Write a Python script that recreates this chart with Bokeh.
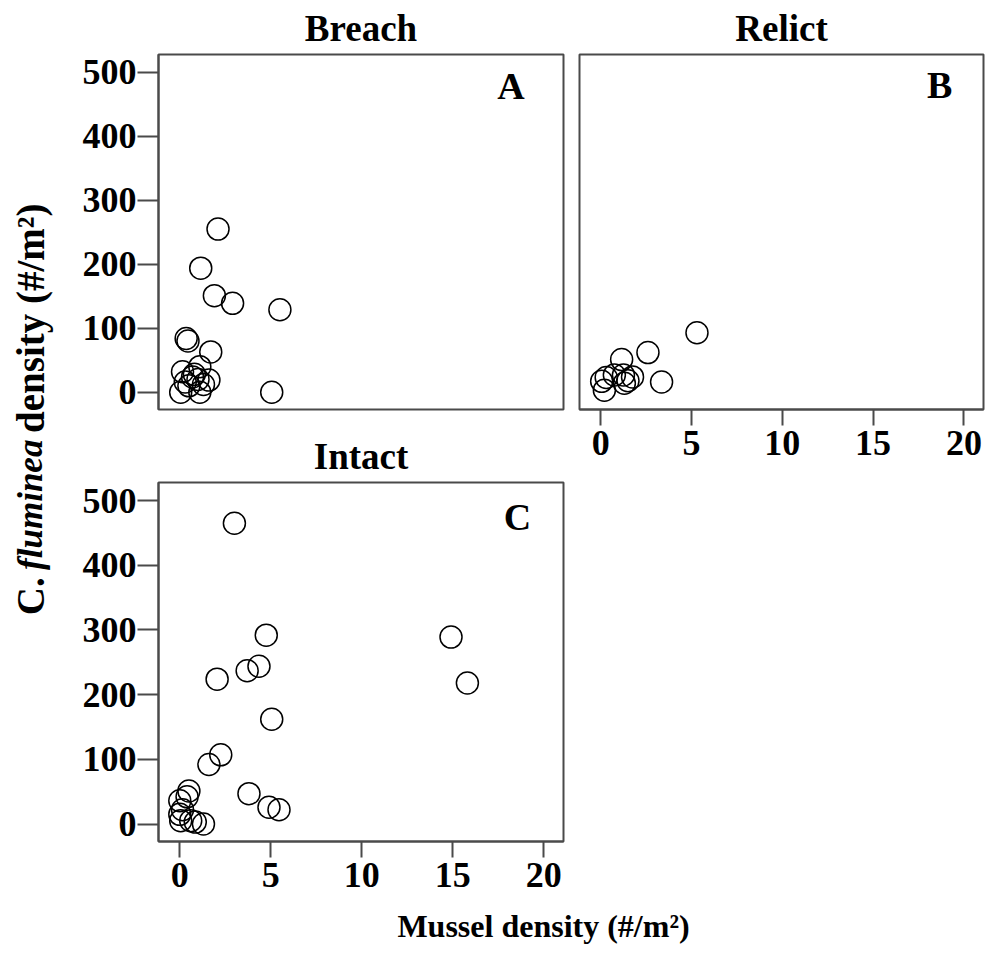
from bokeh.plotting import figure
from bokeh.layouts import row, column
from bokeh.models import Range1d, FixedTicker
from bokeh.core.properties import value
from bokeh.embed import file_html
from bokeh.resources import INLINE
import math

# ---- data ----
breach_x = [2.1, 1.15, 1.9, 2.9, 5.5, 0.35, 0.45, 1.7, 5.05, 0.05, 1.1, 1.1, 1.6, 0.15, 0.3, 0.7, 1.0, 0.5, 0.8, 1.3]
breach_y = [255, 194, 151, 139, 129, 84, 80, 63, 0, 0, 0, 40, 19, 32, 16, 24, 20, 10, 28, 12]

relict_x = [5.3, 2.6, 1.15, 3.35, 0.2, 0.3, 0.75, 1.3, 1.75, 1.5, 0.05, 1.25]
relict_y = [93, 62, 51, 16, 3, 23, 27, 14, 24, 18, 17, 27]

intact_x = [3.0, 4.75, 14.9, 4.35, 3.7, 2.05, 15.8, 5.05, 2.25, 1.6, 3.8, 4.9, 5.45, 0.0, 0.5, 0.4, 0.0, 0.05, 0.6, 0.85, 1.3, 0.15]
intact_y = [465, 292, 289, 244, 237, 224, 218, 162, 107, 92, 47, 26, 22, 36, 51, 42, 15, 5, 5, 3, 0, 22]

x_ticks = [0, 5, 10, 15, 20]
y_ticks = [0, 100, 200, 300, 400, 500]
panel_titles = ["Breach", "Relict", "Intact"]
panel_letters = ["A", "B", "C"]
x_label = "Mussel density (#/m\u00b2)"
y_label_parts = ["C.", "fluminea", "density (#/m\u00b2)"]

FONT = "Liberation Serif"
FRAME = "#4a4a4a"
XR = (-1.17, 21.08)
YR = (-27, 528)


def make_panel(title, letter, xs, ys, width, height, mb, show_x, show_y, letter_pos):
    p = figure(width=width, height=height, output_backend="svg", toolbar_location=None,
               x_range=Range1d(*XR), y_range=Range1d(*YR),
               x_axis_location="below" if show_x else None,
               y_axis_location="left" if show_y else None,
               min_border_left=mb[0], min_border_right=mb[1],
               min_border_top=mb[2], min_border_bottom=mb[3])
    p.xgrid.visible = False
    p.ygrid.visible = False
    p.outline_line_color = FRAME
    p.outline_line_width = 2
    p.title.text = title
    p.title.align = "center"
    p.title.text_font = FONT
    p.title.text_font_style = "bold"
    p.title.text_font_size = "37px"
    p.title.text_color = "black"
    p.title.standoff = 11
    for ax in p.axis:
        ax.axis_line_color = FRAME
        ax.axis_line_width = 2
        ax.major_tick_line_color = FRAME
        ax.major_tick_line_width = 2
        ax.minor_tick_line_color = None
        ax.major_tick_in = 0
        ax.major_label_text_font = FONT
        ax.major_label_text_font_style = "bold"
        ax.major_label_text_font_size = "36px"
        ax.major_label_text_color = "black"
    if show_x:
        p.xaxis.ticker = FixedTicker(ticks=x_ticks)
        p.xaxis.major_tick_out = 16
        p.xaxis.major_label_standoff = 5
    if show_y:
        p.yaxis.ticker = FixedTicker(ticks=y_ticks)
        p.yaxis.major_tick_out = 21
        p.yaxis.major_label_standoff = 1
    p.scatter(xs, ys, marker="circle", size=22, fill_color=None,
              line_color="black", line_width=1.5)
    p.text(x=[letter_pos[0]], y=[letter_pos[1]], text=[letter],
           text_font=value(FONT), text_font_style="bold", text_font_size="38px",
           text_align="center", text_baseline="middle", text_color="black")
    return p


pA = make_panel(panel_titles[0], panel_letters[0], breach_x, breach_y, 511, 420,
                (98, 8, 50, 11), False, True, (18.2, 478))
pB = make_panel(panel_titles[1], panel_letters[1], relict_x, relict_y, 417, 469,
                (8, 5, 50, 60), True, False, (18.66, 481))
pC = make_panel(panel_titles[2], panel_letters[2], intact_x, intact_y, 511, 481,
                (98, 8, 62, 60), True, True, (18.55, 474))

# y-axis label strip (mixed upright / italic words along a rotated line)
H_LEFT = 420 + 481
yfig = figure(width=60, height=H_LEFT, output_backend="svg", toolbar_location=None,
              x_range=Range1d(0, 60), y_range=Range1d(0, H_LEFT),
              x_axis_location=None, y_axis_location=None, min_border=0)
yfig.xgrid.visible = False
yfig.ygrid.visible = False
yfig.outline_line_color = None
fs = 39
fs_it = 35
w_c = 0.972 * fs          # "C."
w_gap1 = 0.36 * fs        # space before the italic word
w_gap2 = 0.25 * fs        # space after it
w_fl = 4.2 * fs_it        # "fluminea" as rendered (bold italic)
b0 = H_LEFT - 642
starts = [b0, b0 + w_c + w_gap1, b0 + w_c + w_gap1 + w_fl + w_gap2]
specs = [("bold", fs), ("bold italic", fs_it), ("bold", fs)]
for txt, ys_, (st, sz) in zip(y_label_parts, starts, specs):
    yfig.text(x=[30], y=[ys_], text=[txt], angle=math.pi / 2,
              text_font=value(FONT), text_font_style=st, text_font_size=f"{sz}px",
              text_align="left", text_baseline="middle", text_color="black")

# x-axis label strip
xfig = figure(width=988, height=53, output_backend="svg", toolbar_location=None,
              x_range=Range1d(0, 988), y_range=Range1d(0, 53),
              x_axis_location=None, y_axis_location=None, min_border=0)
xfig.xgrid.visible = False
xfig.ygrid.visible = False
xfig.outline_line_color = None
xfig.text(x=[543], y=[29], text=[x_label], text_font=value(FONT),
          text_font_style="bold", text_font_size="32px",
          text_align="center", text_baseline="middle", text_color="black")

layout = column(row(yfig, column(pA, pC), pB), xfig)

open("out.html", "w").write(file_html(layout, INLINE))
